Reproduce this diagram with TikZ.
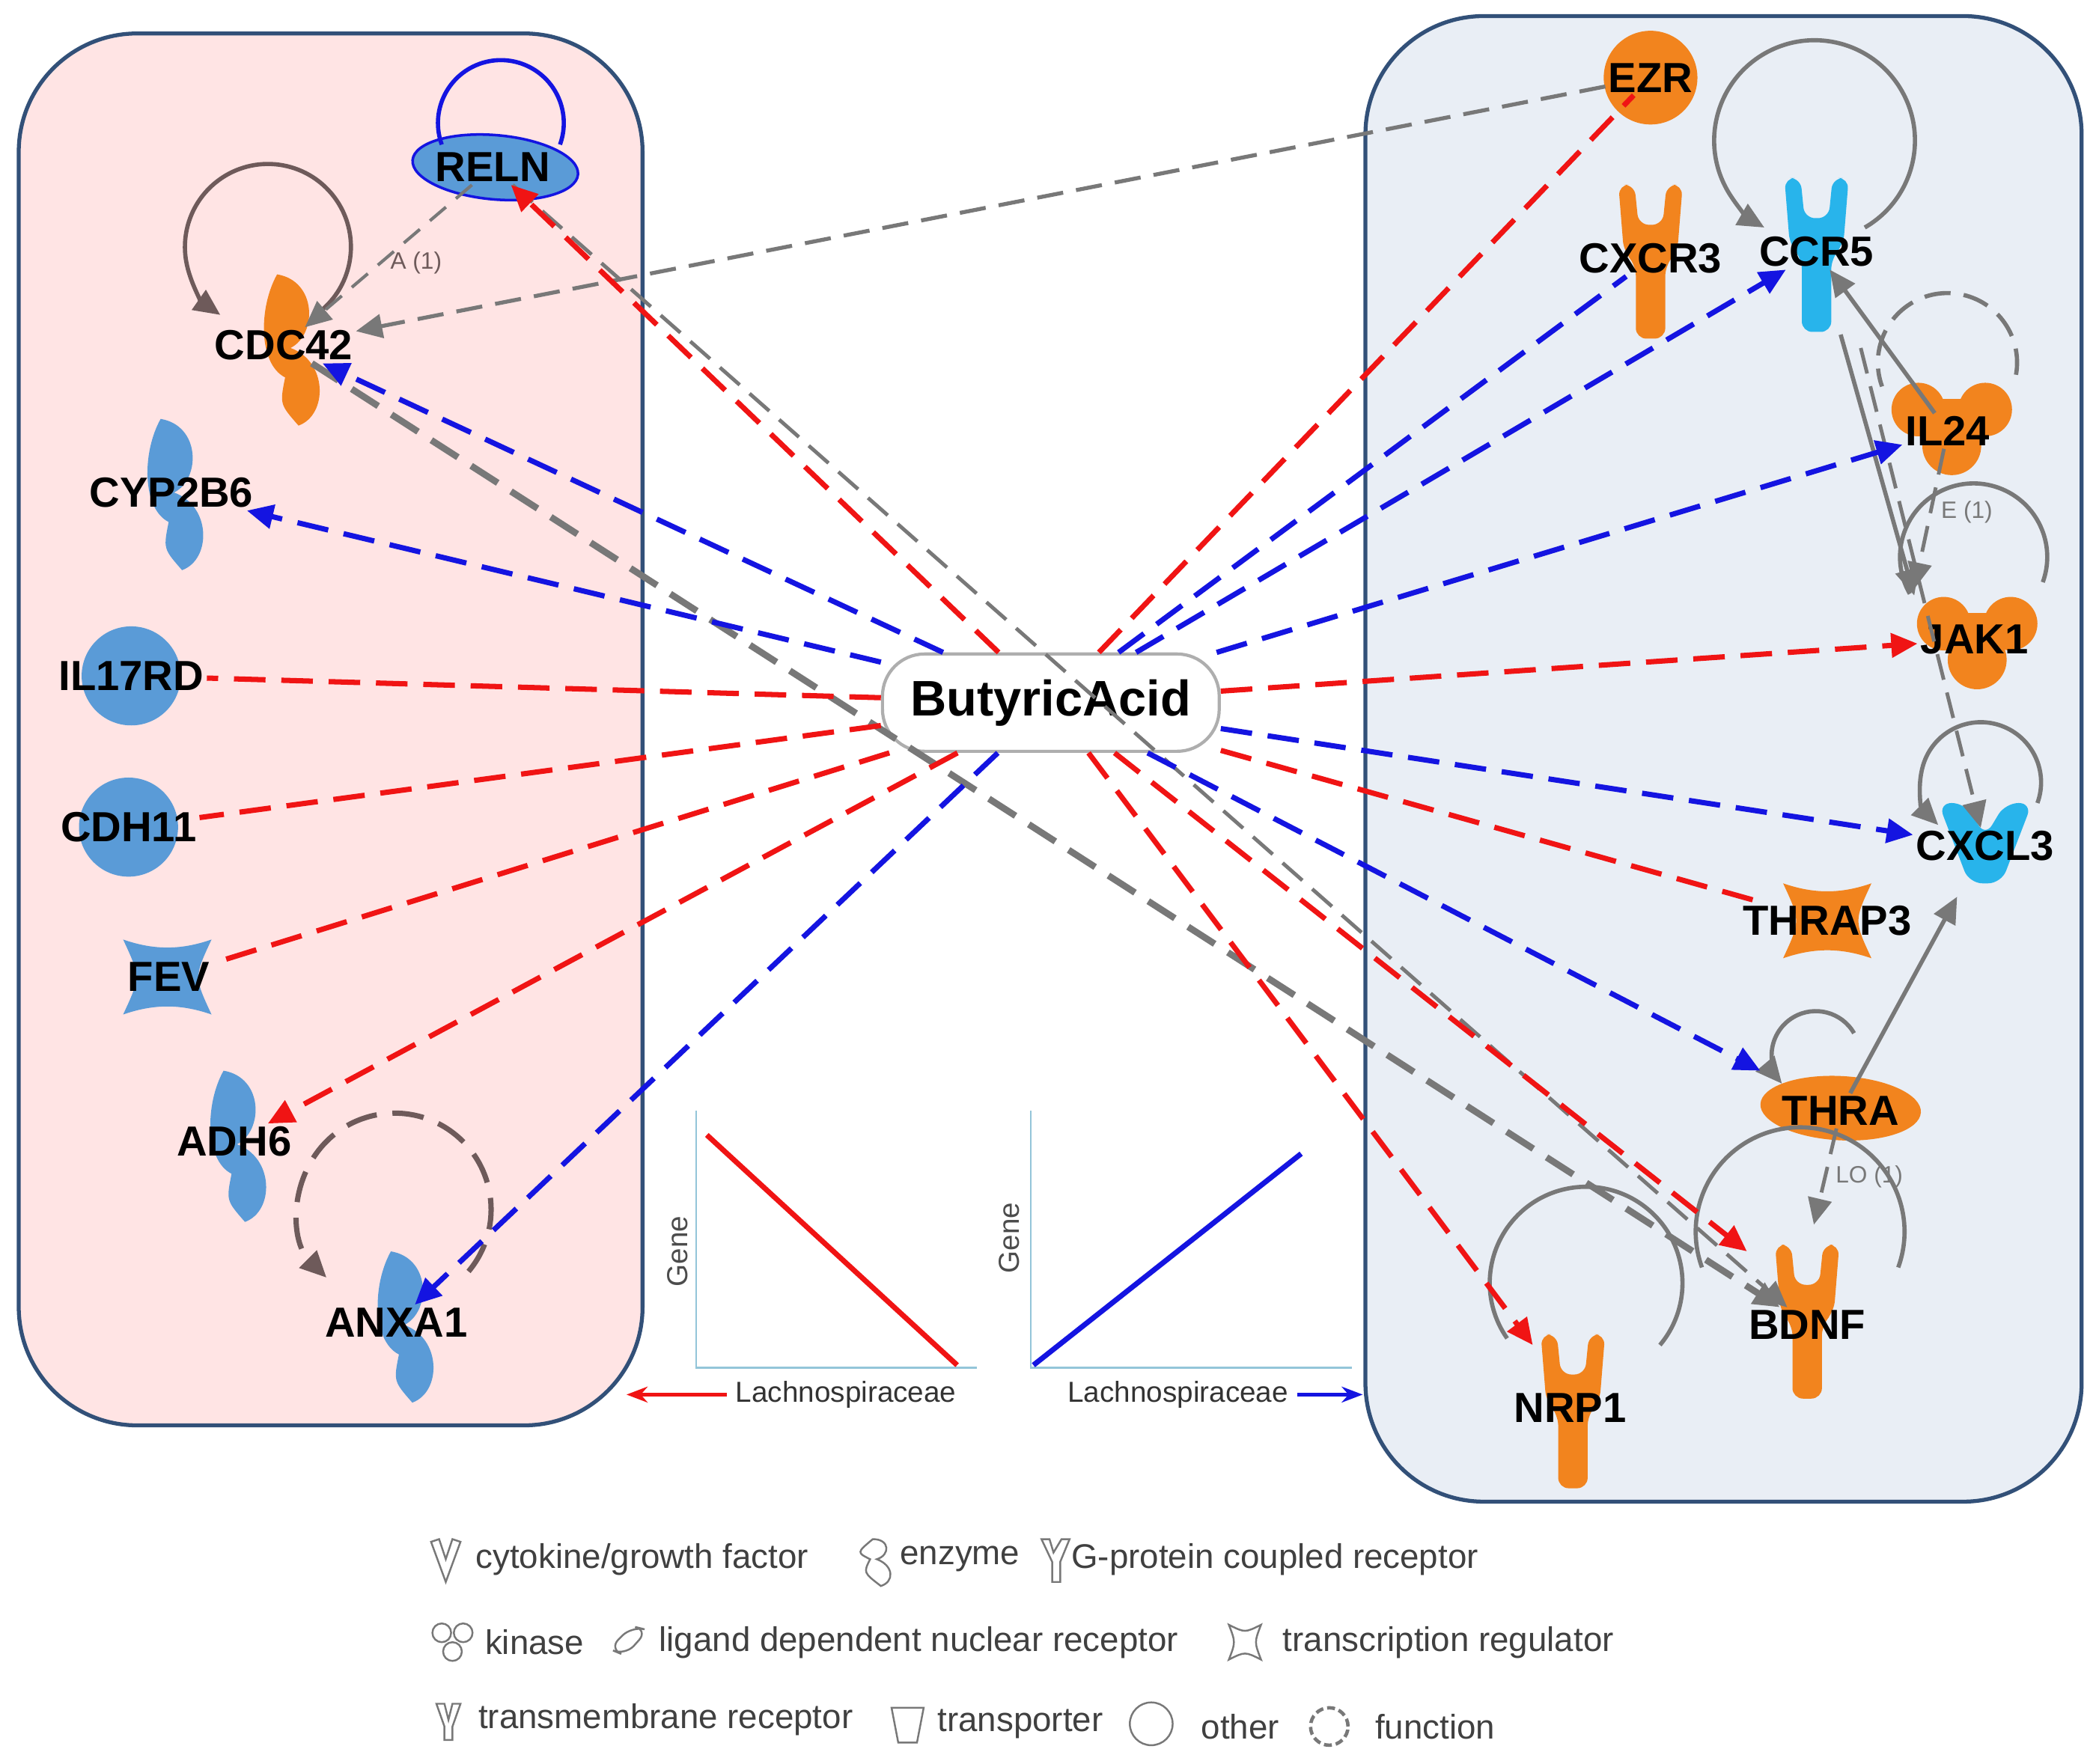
\documentclass[tikz,border=0pt]{standalone}
\usepackage{fontspec}
\setmainfont{Liberation Sans}
\usetikzlibrary{arrows.meta}
\definecolor{og}{RGB}{242,132,30}
\definecolor{bn}{RGB}{90,155,215}
\definecolor{cy}{RGB}{40,180,235}
\definecolor{rd}{RGB}{240,20,20}
\definecolor{bl}{RGB}{20,20,225}
\definecolor{gy}{RGB}{120,120,120}
\definecolor{br}{RGB}{110,90,90}
\definecolor{pinkbg}{RGB}{255,228,228}
\definecolor{bluebg}{RGB}{233,238,245}
\definecolor{boxb}{RGB}{50,80,120}
\tikzset{
 lbl/.style={font=\bfseries\fontsize{16}{16}\selectfont, inner sep=1pt},
 dsh/.style={line width=2pt, dash pattern=on 12pt off 6pt},
 tip/.style={-{Triangle[length=10pt,width=9pt]}},
 ered/.style={dsh,rd},
 eblu/.style={dsh,bl},
 egry/.style={dsh,gy},
 lp/.style={line width=1.6pt,gy},
 leg/.style={font=\fontsize{13}{13}\selectfont, text=black!75, anchor=west, inner sep=0pt},
 ico/.style={draw=gy, line width=0.7pt, fill=white},
 pics/ytm/.style={code={\fill[#1,rounded corners=4] (-24,55) -- (-12,55) -- (-9,25) -- (9,25) -- (12,55) -- (24,55) -- (20,5) -- (11,-5) -- (11,-60) -- (-11,-60) -- (-11,-5) -- (-20,5) -- cycle;}},
 pics/enz/.style={code={\fill[#1] (-8,55) .. controls (22,50) and (22,10) .. (2,0) .. controls (30,-10) and (30,-50) .. (8,-58) .. controls (-6,-42) .. (-2,-22) .. controls (-22,-12) and (-22,30) .. (-8,55);}},
 pics/trr/.style={code={\fill[#1] (-33,28) .. controls (-10,20) and (10,20) .. (33,28) .. controls (20,0) .. (33,-28) .. controls (10,-20) and (-10,-20) .. (-33,-28) .. controls (-20,0) .. cycle;}},
 pics/kin/.style={code={\fill[#1] (-25,12) circle (20); \fill[#1] (25,12) circle (20); \fill[#1] (0,-15) circle (22); \fill[#1] (-12,-10) rectangle (12,20);}},
 pics/cyt/.style={code={\fill[#1,rounded corners=5] (-35,30) -- (-15,30) -- (0,5) -- (15,30) -- (35,30) -- (12,-30) -- (-12,-30) -- cycle;}},
}
\begin{document}
\begin{tikzpicture}[x=0.01788cm,y=0.01788cm]
\useasboundingbox (0,0) rectangle (1568,-1318);
\fill[white] (0,0) rectangle (1568,-1318);
% boxes
\draw[boxb,line width=1.5pt,fill=pinkbg,rounded corners=45] (14,-25) rectangle (480,-1065);
\draw[boxb,line width=1.5pt,fill=bluebg,rounded corners=45] (1020,-12) rectangle (1555,-1122);
% shapes left
\filldraw[bn,draw=bl,line width=1pt,rotate around={-5:(370,-125)}] (370,-125) ellipse (62 and 24);
\pic at (215,-260) {enz=og};
\pic at (128,-368) {enz=bn};
\fill[bn] (98,-505) circle (37);
\fill[bn] (96,-618) circle (37);
\pic at (125,-730) {trr=bn};
\pic at (175,-855) {enz=bn};
\pic at (300,-990) {enz=bn};
% shapes right
\fill[og] (1233,-58) circle (35);
\pic at (1233,-193) {ytm=og};
\pic at (1357,-188) {ytm=cy};
\pic at (1458,-318) {kin=og};
\pic at (1477,-478) {kin=og};
\pic at (1483,-630) {cyt=cy};
\pic at (1365,-688) {trr=og};
\fill[og,rotate around={-3:(1375,-828)}] (1375,-828) ellipse (60 and 24);
\pic at (1350,-985) {ytm=og};
\pic at (1175,-1052) {ytm=og};
% labels
\node[lbl] (reln) at (368,-125) {RELN};
\node[lbl] (cdc) at (212,-258) {CDC42};
\node[lbl] (cyp) at (128,-368) {CYP2B6};
\node[lbl] (il17) at (98,-505) {IL17RD};
\node[lbl] (cdh) at (96,-618) {CDH11};
\node[lbl] (fev) at (126,-730) {FEV};
\node[lbl] (adh) at (175,-853) {ADH6};
\node[lbl] (anx) at (296,-988) {ANXA1};
\node[lbl] (ezr) at (1233,-58) {EZR};
\node[lbl] (cxcr) at (1233,-193) {CXCR3};
\node[lbl] (ccr) at (1357,-188) {CCR5};
\node[lbl] (il24) at (1455,-322) {IL24};
\node[lbl] (jak) at (1475,-478) {JAK1};
\node[lbl] (cxcl) at (1483,-632) {CXCL3};
\node[lbl] (thrap) at (1365,-688) {THRAP3};
\node[lbl] (thra) at (1375,-830) {THRA};
\node[lbl] (bdnf) at (1350,-990) {BDNF};
\node[lbl] (nrp) at (1173,-1052) {NRP1};
% loops
\draw[bl,line width=1.6pt] (330,-108) arc[start angle=200,end angle=-20,radius=47];
\draw[br,line width=1.6pt,tip] (240,-232) arc[start angle=-50,end angle=235,radius=62];
\draw[br,line width=1.6pt,dsh,tip] (350,-950) arc[start angle=-40,end angle=225,radius=72];
\draw[lp,tip] (1393,-170) arc[start angle=-60,end angle=240,radius=75];
\draw[gy,line width=1.6pt,dash pattern=on 10pt off 5pt] (1506,-280) arc[start angle=-10,end angle=200,radius=52];
\draw[lp] (1526,-435) arc[start angle=-20,end angle=210,radius=55];
\draw[lp,tip] (1522,-600) arc[start angle=-20,end angle=225,radius=45];
\draw[lp,tip] (1385,-772) arc[start angle=30,end angle=220,radius=33];
\draw[lp] (1418,-947) arc[start angle=-20,end angle=200,radius=78];
\draw[lp] (1240,-1005) arc[start angle=-40,end angle=215,radius=72];
% central
\node[draw=gy!60,line width=1.2pt,fill=white,rounded corners=16pt,minimum width=128pt,minimum height=37pt,font=\bfseries\fontsize{19}{19}\selectfont] (ba) at (785,-525) {ButyricAcid};
% gray edges
\draw[egry,line width=1.5pt,dash pattern=on 10pt off 5pt,tip] (ezr) -- (cdc);
\draw[gy,line width=1.2pt,dash pattern=on 8pt off 5pt,tip] (reln) -- node[right,font=\fontsize{9}{9}\selectfont,text=br,pos=0.55] {A (1)} (cdc);
\draw[gy,line width=1.4pt,dash pattern=on 10pt off 5pt,tip] (reln) -- (bdnf);
\draw[egry,line width=2.5pt,tip] (cdc) -- (bdnf);
\draw[lp,tip] (il24) -- (ccr);
\draw[lp,tip] (1375,-250) -- (1430,-445);
\draw[gy,line width=1.4pt,dash pattern=on 10pt off 5pt,tip] (il24) -- node[right,font=\fontsize{9}{9}\selectfont,pos=0.45] {E (1)} (1430,-440);
\draw[gy,line width=1.4pt,dash pattern=on 10pt off 5pt,tip] (1390,-260) -- (cxcl);
\draw[lp,tip] (thra) -- (1462,-670);
\draw[gy,line width=1.4pt,dash pattern=on 10pt off 5pt,tip] (thra) -- node[right,font=\fontsize{9}{9}\selectfont] {LO (1)} (1355,-915);
% butyric edges
\draw[ered,tip] (ba) -- (reln);
\draw[eblu,tip] (ba) -- (cdc);
\draw[eblu,tip] (ba) -- (cyp);
\draw[ered] (ba) -- (il17);
\draw[ered] (ba) -- (cdh);
\draw[ered] (ba) -- (fev);
\draw[ered,tip] (ba) -- (adh);
\draw[eblu,tip] (ba) -- (anx);
\draw[ered] (ba) -- (ezr);
\draw[eblu] (ba) -- (cxcr);
\draw[eblu,tip] (ba) -- (ccr);
\draw[eblu,tip] (ba) -- (il24);
\draw[ered,tip] (ba) -- (jak);
\draw[eblu,tip] (ba) -- (cxcl);
\draw[ered] (ba) -- (thrap);
\draw[eblu,tip] (ba) -- (1315,-800);
\draw[ered,tip] (ba) -- (1305,-935);
\draw[ered,tip] (ba) -- (1145,-1005);
% plots
\draw[cy!60!gray!60,line width=0.8pt] (520,-830) -- (520,-1022) -- (730,-1022);
\draw[rd,line width=2pt] (528,-848) -- (715,-1020);
\node[rotate=90,font=\fontsize{11}{11}\selectfont,text=black!70] at (506,-935) {Gene};
\draw[cy!60!gray!60,line width=0.8pt] (770,-830) -- (770,-1022) -- (1010,-1022);
\draw[bl,line width=2pt] (772,-1020) -- (972,-862);
\node[rotate=90,font=\fontsize{11}{11}\selectfont,text=black!70] at (754,-925) {Gene};
\node[font=\fontsize{11}{11}\selectfont,text=black!80] (l1) at (632,-1042) {Lachnospiraceae};
\node[font=\fontsize{11}{11}\selectfont,text=black!80] (l2) at (880,-1042) {Lachnospiraceae};
\draw[rd,line width=1.5pt,-{Stealth[length=8pt]}] (l1.west) -- (468,-1042);
\draw[bl,line width=1.5pt,-{Stealth[length=8pt]}] (l2.east) -- (1018,-1042);
% legend
\draw[ico] (322,-1152) -- (333,-1182) -- (344,-1152) -- (338,-1150) -- (333,-1165) -- (328,-1150) -- cycle;
\node[leg] at (355,-1165) {cytokine/growth factor};
\draw[ico] (652,-1150) .. controls (665,-1150) and (665,-1162) .. (655,-1165) .. controls (668,-1170) and (668,-1182) .. (658,-1185) .. controls (645,-1175) .. (650,-1165) .. controls (640,-1160) .. cycle;
\node[leg] at (672,-1165) {enzyme};
\draw[ico] (778,-1150) -- (784,-1150) -- (787,-1160) -- (793,-1150) -- (799,-1150) -- (792,-1167) -- (792,-1182) -- (786,-1182) -- (786,-1167) -- cycle;
\node[leg] at (800,-1165) {G-protein coupled receptor};
\draw[ico] (330,-1220) circle (7); \draw[ico] (346,-1220) circle (7); \draw[ico] (338,-1234) circle (7);
\node[leg] at (362,-1227) {kinase};
\draw[ico,rounded corners=5] (455,-1232) -- (472,-1215) -- (484,-1218) -- (467,-1237) -- cycle;
\node[leg] at (492,-1227) {ligand dependent nuclear receptor};
\draw[ico] (918,-1214) .. controls (930,-1220) .. (942,-1214) .. controls (937,-1227) .. (942,-1240) .. controls (930,-1234) .. (918,-1240) .. controls (923,-1227) .. cycle;
\node[leg] at (958,-1227) {transcription regulator};
\draw[ico] (326,-1273) -- (332,-1273) -- (335,-1285) -- (338,-1273) -- (344,-1273) -- (338,-1290) -- (338,-1300) -- (332,-1300) -- (332,-1290) -- cycle;
\node[leg] at (357,-1285) {transmembrane receptor};
\draw[ico] (666,-1276) -- (690,-1276) -- (685,-1302) -- (671,-1302) -- cycle;
\node[leg] at (700,-1288) {transporter};
\draw[ico] (860,-1288) circle (16);
\node[leg] at (897,-1290) {other};
\draw[ico,dash pattern=on 3pt off 1.5pt,line width=1.3pt] (993,-1290) circle (14);
\node[leg] at (1027,-1290) {function};
\end{tikzpicture}
\end{document}
